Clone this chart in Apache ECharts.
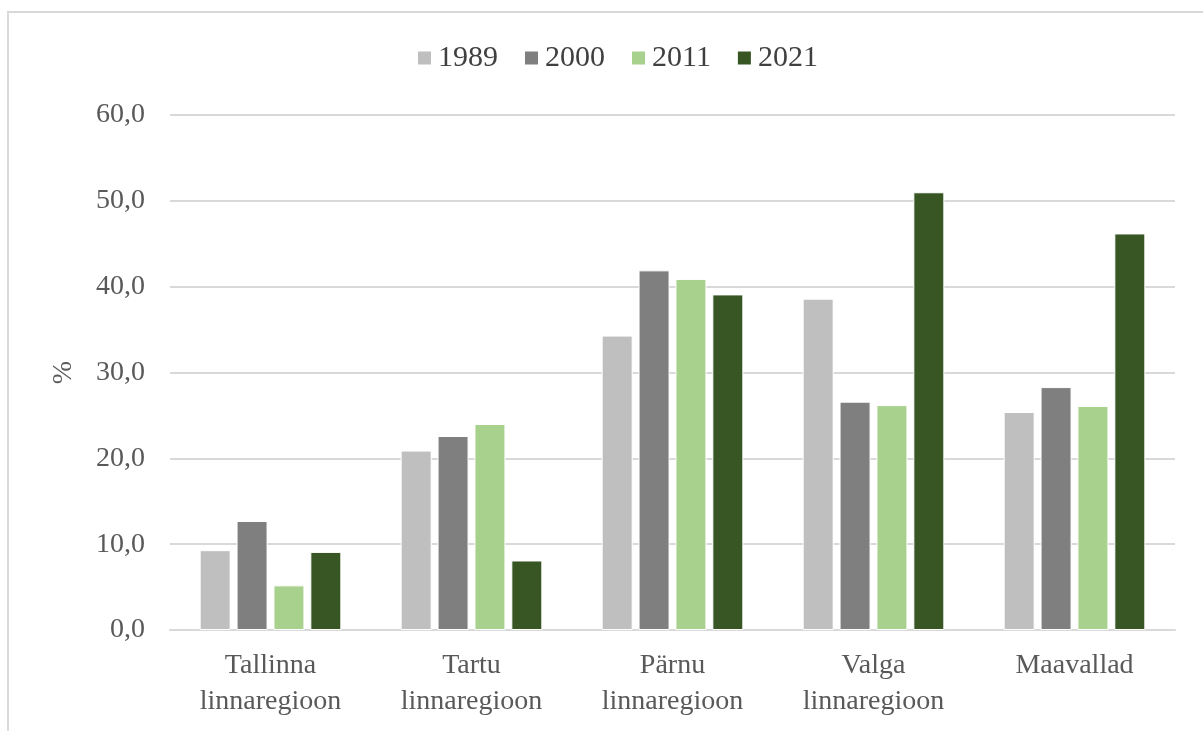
<!DOCTYPE html>
<html>
<head>
<meta charset="utf-8">
<script src="https://cdn.jsdelivr.net/npm/echarts@6/dist/echarts.min.js"></script>
<style>
  html, body { margin: 0; padding: 0; background: #fff; }
  #chart { width: 1203px; height: 731px; }
</style>
</head>
<body>
<div id="chart"></div>
<script>
// andmed
const categories = ['Tallinna\nlinnaregioon', 'Tartu\nlinnaregioon', 'Pärnu\nlinnaregioon', 'Valga\nlinnaregioon', 'Maavallad']
const years = ['1989', '2000', '2011', '2021']
const v1989 = [9.3, 20.9, 34.3, 38.6, 25.4]
const v2000 = [12.7, 22.6, 41.9, 26.6, 28.3]
const v2011 = [5.2, 24.0, 40.9, 26.2, 26.1]
const v2021 = [9.1, 8.1, 39.1, 51.0, 46.2]
const colors = ['#BFBFBF', '#7F7F7F', '#A9D18E', '#375623']

const chart = echarts.init(document.getElementById('chart'))
const font = 'Liberation Serif, Times New Roman, serif'

const seriesData = [v1989, v2000, v2011, v2021]

const option = {
  animation: false,
  textStyle: { fontFamily: font },
  graphic: [
    {
      type: 'polyline',
      shape: { points: [[8, 731], [8, 12], [1203, 12]] },
      style: { stroke: '#D9D9D9', lineWidth: 2, fill: null }
    }
  ],
  legend: {
    top: 38,
    left: 411,
    itemWidth: 15,
    itemHeight: 15,
    itemGap: 25,
    icon: 'rect',
    textStyle: { fontFamily: font, fontSize: 30, color: '#404040', padding: [0, 0, 0, 1] },
    data: years
  },
  grid: {
    left: 170,
    right: 28,
    top: 115,
    bottom: 101
  },
  xAxis: {
    type: 'category',
    data: categories,
    axisTick: { show: false },
    axisLine: { lineStyle: { color: '#D9D9D9', width: 2 } },
    axisLabel: {
      fontFamily: font,
      fontSize: 28,
      color: '#595959',
      lineHeight: 36,
      margin: 18,
      interval: 0
    }
  },
  yAxis: {
    type: 'value',
    min: 0,
    max: 60,
    interval: 10,
    name: '%',
    nameLocation: 'middle',
    nameGap: 92,
    nameRotate: 90,
    nameTextStyle: { fontFamily: font, fontSize: 28, color: '#595959' },
    axisLabel: {
      fontFamily: font,
      fontSize: 28,
      color: '#595959',
      margin: 25,
      formatter: v => v.toFixed(1).replace('.', ',')
    },
    splitLine: { lineStyle: { color: '#D9D9D9', width: 2 } }
  },
  series: years.map((y, i) => ({
    name: y,
    type: 'bar',
    data: seriesData[i],
    barWidth: 31,
    barGap: '19%',
    itemStyle: { color: colors[i], borderColor: '#fff', borderWidth: 1 }
  }))
}

chart.setOption(option)
</script>
</body>
</html>
